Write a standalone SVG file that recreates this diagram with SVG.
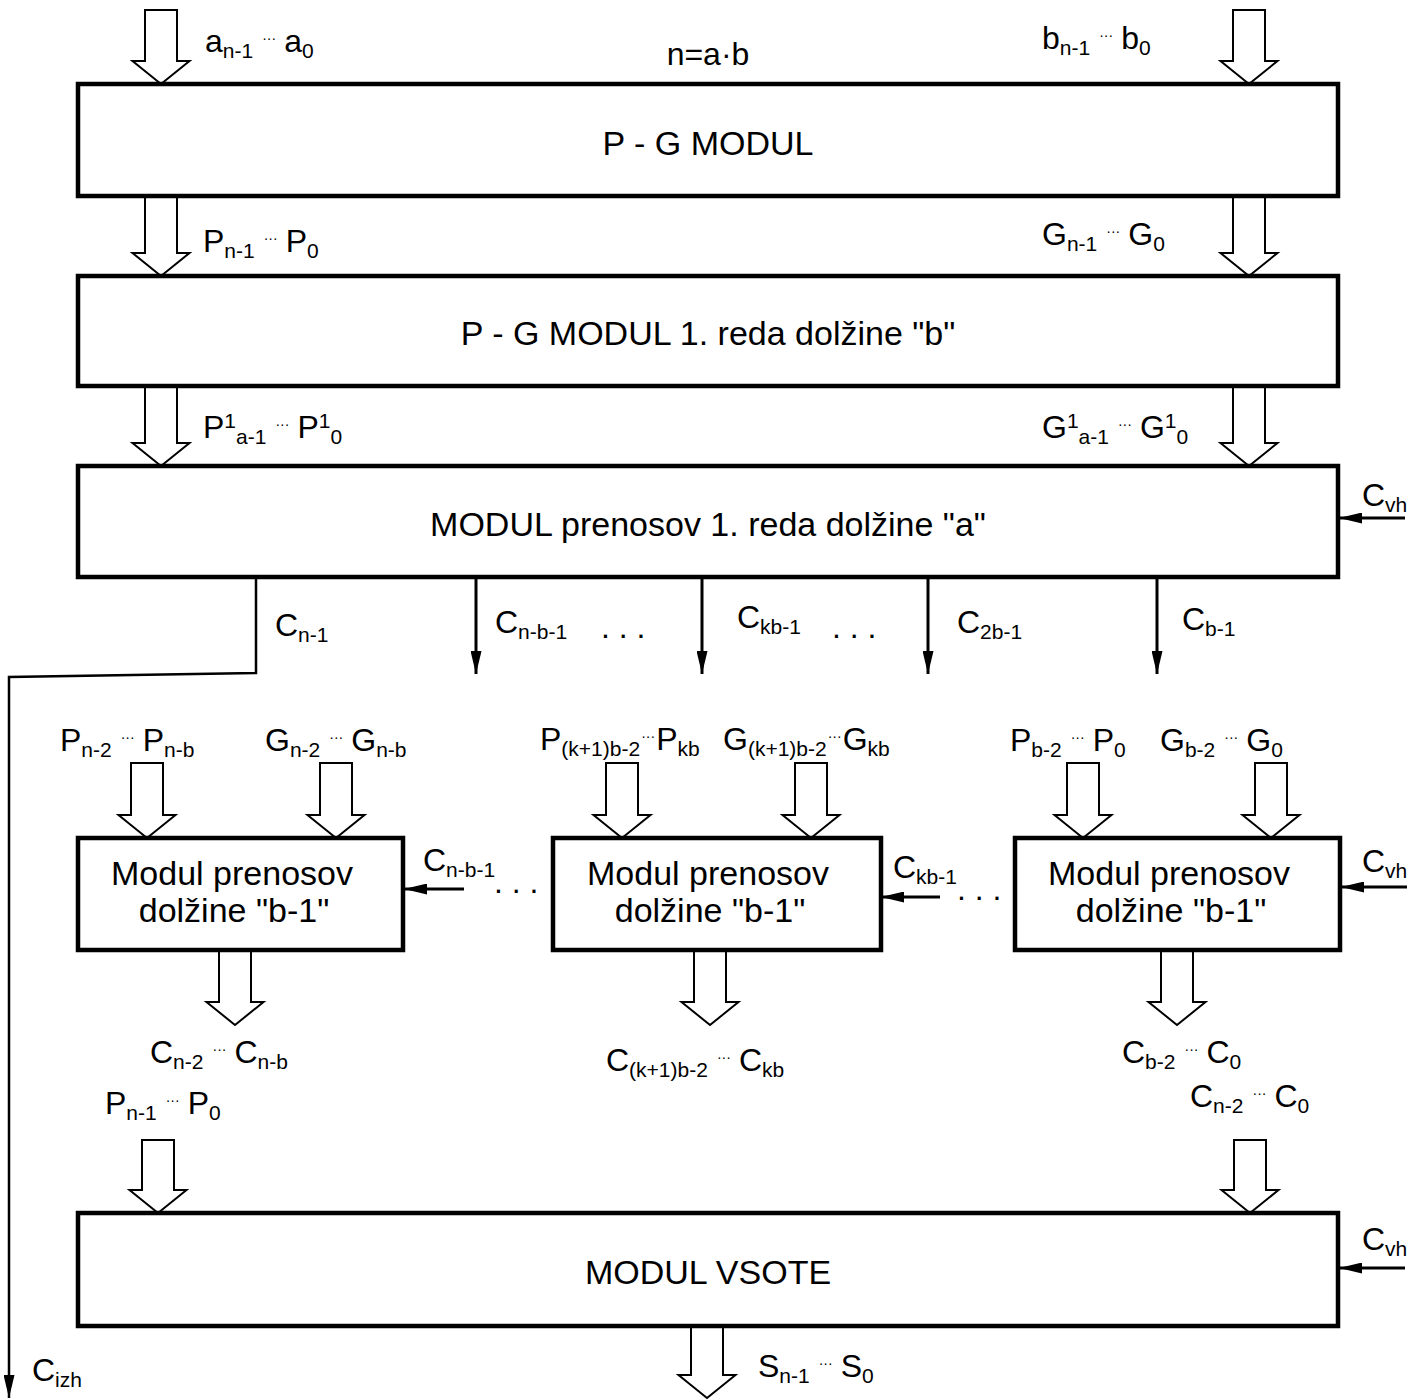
<svg xmlns="http://www.w3.org/2000/svg" width="1409" height="1400" viewBox="0 0 1409 1400">
  <style>
    .box { fill: #fff; stroke: #000; stroke-width: 4.5; }
    .bus { fill: #fff; stroke: #000; stroke-width: 2; stroke-linejoin: miter; }
    .wire { fill: none; stroke: #000; stroke-width: 3; }
    .thin { fill: none; stroke: #000; stroke-width: 2.5; }
    text { font-family: "Liberation Sans", Arial, sans-serif; fill: #000; }
    .t { font-size: 32px; }
    .bt { font-size: 34px; text-anchor: middle; }
    .s { font-size: 21px; }
    .d { font-size: 14px; }
  </style>
  <defs>
    <marker id="ah" viewBox="0 0 23 11" refX="23" refY="5.5" markerWidth="23" markerHeight="11" markerUnits="userSpaceOnUse" orient="auto">
      <path d="M0,0 L23,5.5 L0,11 Z" fill="#000"/>
    </marker>
  </defs>

  <!-- connectors: bus arrows (hollow) and single-signal wires -->
  <g id="connectors">
    <path class="bus" d="M145,10 V61 H132.5 L161,84 L189.5,61 H177 V10 Z"/>
    <path class="bus" d="M1233,10 V61 H1220.5 L1249,84 L1277.5,61 H1265 V10 Z"/>
    <path class="bus" d="M145,196 V253 H132.5 L161,276 L189.5,253 H177 V196 Z"/>
    <path class="bus" d="M1233,196 V253 H1220.5 L1249,276 L1277.5,253 H1265 V196 Z"/>
    <path class="bus" d="M145,386 V443 H132.5 L161,466 L189.5,443 H177 V386 Z"/>
    <path class="bus" d="M1233,386 V443 H1220.5 L1249,466 L1277.5,443 H1265 V386 Z"/>
    <path class="bus" d="M131,763 V815 H118.5 L147,838 L175.5,815 H163 V763 Z"/>
    <path class="bus" d="M320,763 V815 H307.5 L336,838 L364.5,815 H352 V763 Z"/>
    <path class="bus" d="M606,763 V815 H593.5 L622,838 L650.5,815 H638 V763 Z"/>
    <path class="bus" d="M795,763 V815 H782.5 L811,838 L839.5,815 H827 V763 Z"/>
    <path class="bus" d="M1067,763 V815 H1054.5 L1083,838 L1111.5,815 H1099 V763 Z"/>
    <path class="bus" d="M1255,763 V815 H1242.5 L1271,838 L1299.5,815 H1287 V763 Z"/>
    <path class="bus" d="M219,950 V1002 H206.5 L235,1025 L263.5,1002 H251 V950 Z"/>
    <path class="bus" d="M694,950 V1002 H681.5 L710,1025 L738.5,1002 H726 V950 Z"/>
    <path class="bus" d="M1161,950 V1002 H1148.5 L1177,1025 L1205.5,1002 H1193 V950 Z"/>
    <path class="bus" d="M142,1140 V1190 H129.5 L158,1213 L186.5,1190 H174 V1140 Z"/>
    <path class="bus" d="M1234,1140 V1190 H1221.5 L1250,1213 L1278.5,1190 H1266 V1140 Z"/>
    <path class="bus" d="M691,1326 V1375 H678.5 L707,1398 L735.5,1375 H723 V1326 Z"/>

    <!-- carry out of the whole adder -->
    <path class="thin" d="M256,577 V673 L9,677 V1398" marker-end="url(#ah)"/>
    <!-- block carries from the first-order carry module -->
    <path class="wire" d="M476,578 V674" marker-end="url(#ah)"/>
    <path class="wire" d="M702,578 V674" marker-end="url(#ah)"/>
    <path class="wire" d="M928,578 V674" marker-end="url(#ah)"/>
    <path class="wire" d="M1157,578 V674" marker-end="url(#ah)"/>
    <!-- carry inputs -->
    <path class="wire" d="M1405,518 H1339" marker-end="url(#ah)"/>
    <path class="wire" d="M1407,887 H1341" marker-end="url(#ah)"/>
    <path class="wire" d="M1405,1268 H1339" marker-end="url(#ah)"/>
    <path class="wire" d="M464,889 H404" marker-end="url(#ah)"/>
    <path class="wire" d="M940,897 H881" marker-end="url(#ah)"/>
  </g>

  <!-- signal labels -->
  <g id="labels">
    <text class="t" x="205" y="52">a<tspan class="s" dy="6">n-1</tspan><tspan class="d" dx="9" dy="-15">···</tspan><tspan dx="8" dy="9">a</tspan><tspan class="s" dy="6">0</tspan></text>
    <text class="t" x="708" y="65" text-anchor="middle">n=a·b</text>
    <text class="t" x="1042" y="49">b<tspan class="s" dy="6">n-1</tspan><tspan class="d" dx="9" dy="-15">···</tspan><tspan dx="8" dy="9">b</tspan><tspan class="s" dy="6">0</tspan></text>

    <text class="t" x="203" y="252">P<tspan class="s" dy="6">n-1</tspan><tspan class="d" dx="9" dy="-15">···</tspan><tspan dx="8" dy="9">P</tspan><tspan class="s" dy="6">0</tspan></text>
    <text class="t" x="1042" y="245">G<tspan class="s" dy="6">n-1</tspan><tspan class="d" dx="9" dy="-15">···</tspan><tspan dx="8" dy="9">G</tspan><tspan class="s" dy="6">0</tspan></text>

    <text class="t" x="203" y="438">P<tspan class="s" dy="-10">1</tspan><tspan class="s" dy="16">a-1</tspan><tspan class="d" dx="9" dy="-15">···</tspan><tspan dx="8" dy="9">P</tspan><tspan class="s" dy="-10">1</tspan><tspan class="s" dy="16">0</tspan></text>
    <text class="t" x="1042" y="438">G<tspan class="s" dy="-10">1</tspan><tspan class="s" dy="16">a-1</tspan><tspan class="d" dx="9" dy="-15">···</tspan><tspan dx="8" dy="9">G</tspan><tspan class="s" dy="-10">1</tspan><tspan class="s" dy="16">0</tspan></text>

    <text class="t" x="1362" y="506">C<tspan class="s" dy="6">vh</tspan></text>

    <text class="t" x="275" y="636">C<tspan class="s" dy="6">n-1</tspan></text>
    <text class="t" x="495" y="633">C<tspan class="s" dy="6">n-b-1</tspan></text>
    <text class="t" x="601" y="638">. . .</text>
    <text class="t" x="737" y="628">C<tspan class="s" dy="6">kb-1</tspan></text>
    <text class="t" x="832" y="638">. . .</text>
    <text class="t" x="957" y="633">C<tspan class="s" dy="6">2b-1</tspan></text>
    <text class="t" x="1182" y="630">C<tspan class="s" dy="6">b-1</tspan></text>

    <text class="t" x="60" y="751">P<tspan class="s" dy="6">n-2</tspan><tspan class="d" dx="9" dy="-15">···</tspan><tspan dx="8" dy="9">P</tspan><tspan class="s" dy="6">n-b</tspan></text>
    <text class="t" x="265" y="751">G<tspan class="s" dy="6">n-2</tspan><tspan class="d" dx="9" dy="-15">···</tspan><tspan dx="8" dy="9">G</tspan><tspan class="s" dy="6">n-b</tspan></text>
    <text class="t" x="540" y="750">P<tspan class="s" dy="6">(k+1)b-2</tspan><tspan class="d" dx="1" dy="-15">···</tspan><tspan dx="1" dy="9">P</tspan><tspan class="s" dy="6">kb</tspan></text>
    <text class="t" x="723" y="750">G<tspan class="s" dy="6">(k+1)b-2</tspan><tspan class="d" dx="1" dy="-15">···</tspan><tspan dx="1" dy="9">G</tspan><tspan class="s" dy="6">kb</tspan></text>
    <text class="t" x="1010" y="751">P<tspan class="s" dy="6">b-2</tspan><tspan class="d" dx="9" dy="-15">···</tspan><tspan dx="8" dy="9">P</tspan><tspan class="s" dy="6">0</tspan></text>
    <text class="t" x="1160" y="751">G<tspan class="s" dy="6">b-2</tspan><tspan class="d" dx="9" dy="-15">···</tspan><tspan dx="8" dy="9">G</tspan><tspan class="s" dy="6">0</tspan></text>

    <text class="t" x="423" y="871">C<tspan class="s" dy="6">n-b-1</tspan></text>
    <text class="t" x="494" y="893">. . .</text>
    <text class="t" x="893" y="878">C<tspan class="s" dy="6">kb-1</tspan></text>
    <text class="t" x="957" y="900">. . .</text>
    <text class="t" x="1362" y="872">C<tspan class="s" dy="6">vh</tspan></text>

    <text class="t" x="150" y="1063">C<tspan class="s" dy="6">n-2</tspan><tspan class="d" dx="9" dy="-15">···</tspan><tspan dx="8" dy="9">C</tspan><tspan class="s" dy="6">n-b</tspan></text>
    <text class="t" x="606" y="1071">C<tspan class="s" dy="6">(k+1)b-2</tspan><tspan class="d" dx="9" dy="-15">···</tspan><tspan dx="8" dy="9">C</tspan><tspan class="s" dy="6">kb</tspan></text>
    <text class="t" x="1122" y="1063">C<tspan class="s" dy="6">b-2</tspan><tspan class="d" dx="9" dy="-15">···</tspan><tspan dx="8" dy="9">C</tspan><tspan class="s" dy="6">0</tspan></text>
    <text class="t" x="105" y="1114">P<tspan class="s" dy="6">n-1</tspan><tspan class="d" dx="9" dy="-15">···</tspan><tspan dx="8" dy="9">P</tspan><tspan class="s" dy="6">0</tspan></text>
    <text class="t" x="1190" y="1107">C<tspan class="s" dy="6">n-2</tspan><tspan class="d" dx="9" dy="-15">···</tspan><tspan dx="8" dy="9">C</tspan><tspan class="s" dy="6">0</tspan></text>

    <text class="t" x="1362" y="1250">C<tspan class="s" dy="6">vh</tspan></text>
    <text class="t" x="758" y="1377">S<tspan class="s" dy="6">n-1</tspan><tspan class="d" dx="9" dy="-15">···</tspan><tspan dx="8" dy="9">S</tspan><tspan class="s" dy="6">0</tspan></text>
    <text class="t" x="32" y="1381">C<tspan class="s" dy="6">izh</tspan></text>
  </g>

  <!-- modules -->
  <g id="pg-modul">
    <rect class="box" x="78" y="84" width="1260" height="112"/>
    <text class="bt" x="708" y="155">P - G MODUL</text>
  </g>
  <g id="pg-modul-1">
    <rect class="box" x="78" y="276" width="1260" height="110"/>
    <text class="bt" x="708" y="345">P - G MODUL 1. reda dolžine "b"</text>
  </g>
  <g id="modul-prenosov-1">
    <rect class="box" x="78" y="466" width="1260" height="111"/>
    <text class="bt" x="708" y="536">MODUL prenosov 1. reda dolžine "a"</text>
  </g>
  <g id="prenos-n">
    <rect class="box" x="78" y="838" width="325" height="112"/>
    <text class="bt" x="232" y="885">Modul prenosov</text>
    <text class="bt" x="234" y="922">dolžine "b-1"</text>
  </g>
  <g id="prenos-k">
    <rect class="box" x="553" y="838" width="328" height="112"/>
    <text class="bt" x="708" y="885">Modul prenosov</text>
    <text class="bt" x="710" y="922">dolžine "b-1"</text>
  </g>
  <g id="prenos-0">
    <rect class="box" x="1015" y="838" width="325" height="112"/>
    <text class="bt" x="1169" y="885">Modul prenosov</text>
    <text class="bt" x="1171" y="922">dolžine "b-1"</text>
  </g>
  <g id="modul-vsote">
    <rect class="box" x="78" y="1213" width="1260" height="113"/>
    <text class="bt" x="708" y="1284">MODUL VSOTE</text>
  </g>
</svg>
